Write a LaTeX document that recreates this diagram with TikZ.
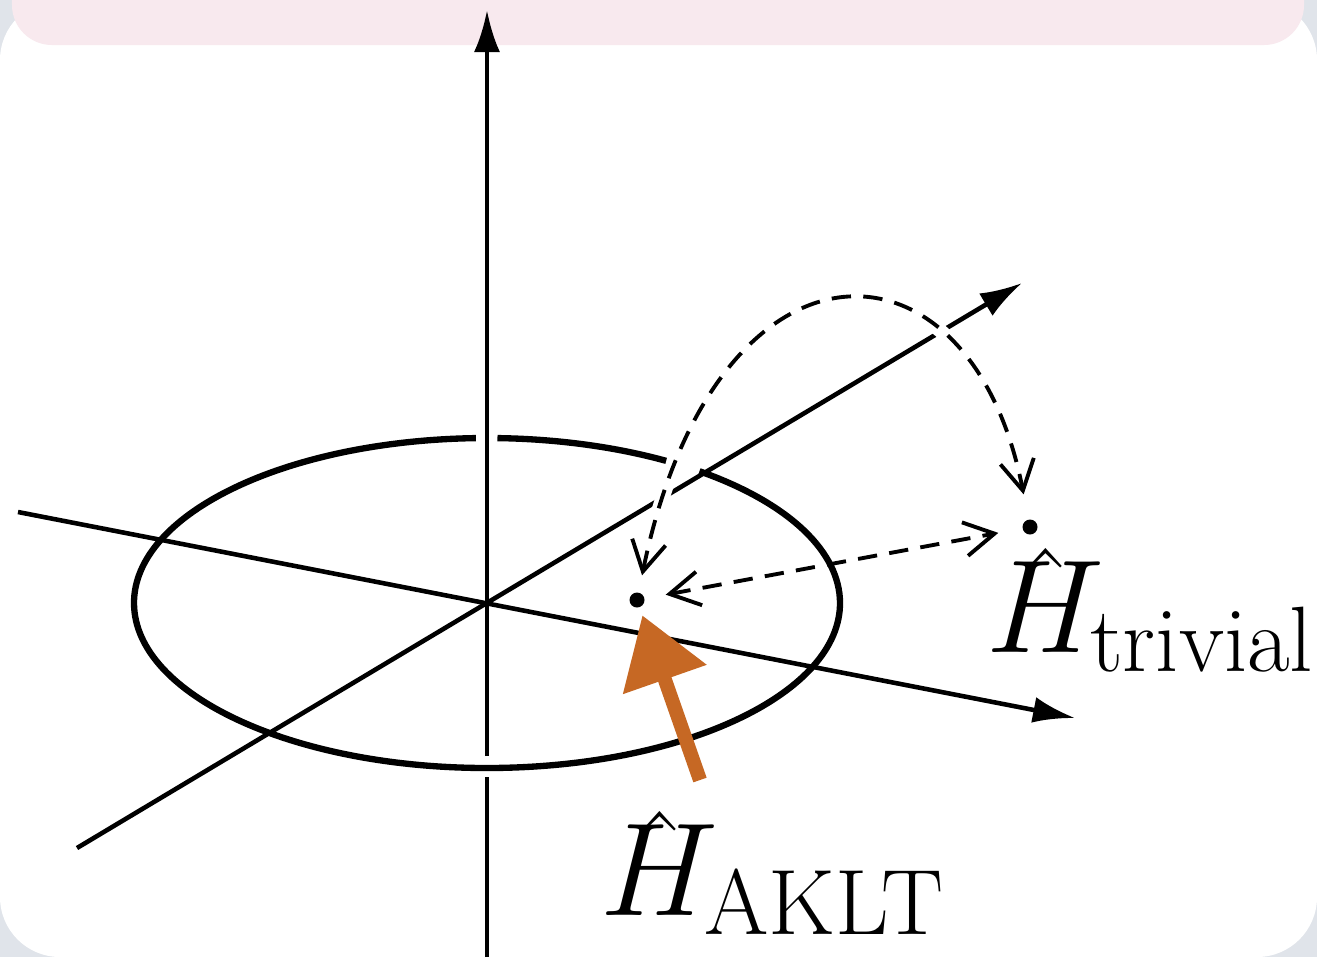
\RequirePackage{fix-cm}
\documentclass[tikz,border=0pt]{standalone}
\usepackage{amsmath}
\usepackage{amssymb}
\usepackage{tikz}
\usetikzlibrary{arrows.meta}
\definecolor{handorange}{RGB}{198,104,36}
\definecolor{bandpink}{RGB}{248,233,238}
\definecolor{cornergray}{RGB}{224,228,234}
% hat sitting a little closer to its letter, subscript tucked back in
\newcommand{\lowhat}[1]{\hat{\smash{#1}\vrule height 0.52em width 0pt}\mkern-2mu{}}

\begin{document}
\begin{tikzpicture}[
    axis/.style={line width=1.3pt, -{Latex[length=0.42cm,width=0.26cm]}},
    ring/.style={line width=1.8pt},
    dashhop/.style={line width=1.1pt, dash pattern=on 5.5pt off 3.5pt,
        {Straight Barb[length=0.3cm,width=0.34cm]}-{Straight Barb[length=0.3cm,width=0.34cm]}},
    dot/.style={circle, fill, inner sep=0pt, minimum size=0.15cm},
    lbl/.style={inner sep=0pt, font=\fontsize{32}{38}\selectfont, scale=1.18, transform shape}
  ]
    % Define the radii of the ring and its centre
    \def\rx{3.53}
    \def\ry{1.65}
    \coordinate (O) at (4.87,3.54);

    % Background of the screenshot
    \useasboundingbox (0,0) rectangle (13.17,9.57);
    \fill[cornergray] (0,0) rectangle (13.17,9.57);
    \fill[white, rounded corners=0.6cm] (0,0) rectangle (13.17,9.57);
    \fill[bandpink, rounded corners=0.4cm] (0.12,9.12) rectangle (13.04,10.2);

    % End points of the three axes
    \coordinate (vbot) at (4.87,0);
    \coordinate (vgapa) at (4.87,1.80);
    \coordinate (vgapb) at (4.87,2.01);
    \coordinate (vtop) at (4.87,9.47);
    \coordinate (hstart) at (0.18,4.45);
    \coordinate (hend) at (10.75,2.39);
    \coordinate (dstart) at (0.77,1.09);
    \coordinate (dend) at (10.22,6.74);

    \draw[line width=1.3pt] (vbot) -- (vgapa);
    \draw[axis] (vgapb) -- (vtop);
    \draw[axis] (hstart) -- (hend);
    \draw[axis] (dstart) -- (dend);

    % Ring, broken where the axes pass in front of it
    \draw[ring] (O) ++(91.8:{\rx} and {\ry}) arc[start angle=91.8, end angle=413, x radius=\rx, y radius=\ry];
    \draw[ring] (O) ++(59.5:{\rx} and {\ry}) arc[start angle=59.5, end angle=88.3, x radius=\rx, y radius=\ry];

    % The two Hamiltonians
    \node[dot] (aklt) at (6.37,3.57) {};
    \node[dot] (triv) at (10.30,4.30) {};

    % Paths between them
    \draw[dashhop, shorten <=0.17cm, shorten >=0.25cm,
          preaction={draw=white, solid, line width=4pt, -}]
        (aklt) .. controls (7.15,7.37) and (9.70,7.37) .. (triv);
    \draw[dashhop, shorten <=0.21cm, shorten >=0.24cm] (aklt) -- (triv);

    % Orange marker
    \coordinate (tail) at (7.00,1.77);
    \draw[handorange, line width=4pt, -{Triangle[length=0.68cm,width=0.85cm]},
          shorten >=0.08cm] (tail) -- (aklt);

    % Labels
    \node[lbl, anchor=base west] (ltriv) at (9.86,3.05) {$\lowhat{H}_{\text{trivial}}$};
    \node[lbl, anchor=base west] (laklt) at (6.00,0.42) {$\lowhat{H}_{\text{AKLT}}$};
\end{tikzpicture}
\end{document}
